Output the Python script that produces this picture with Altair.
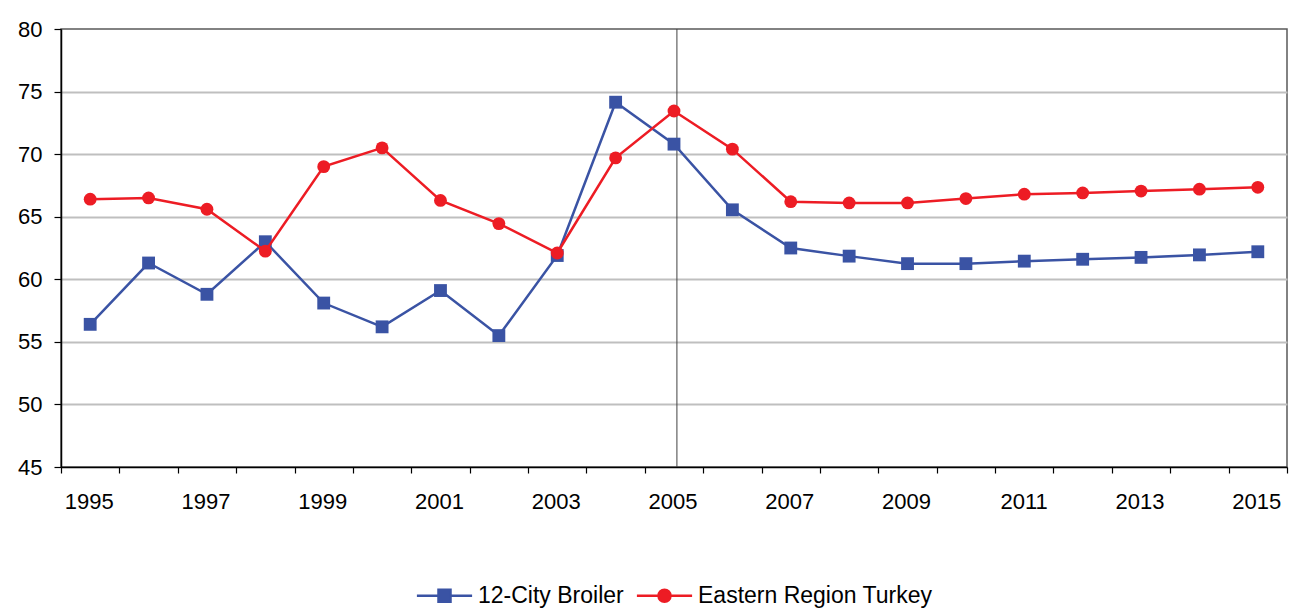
import altair as alt
import pandas as pd

years = list(range(1995, 2016))
broiler = [56.4, 61.3, 58.8, 63.0, 58.1, 56.2, 59.1, 55.5, 61.9, 74.15, 70.8,
           65.55, 62.5, 61.85, 61.25, 61.25, 61.45, 61.6, 61.75, 61.95, 62.2]
turkey = [66.4, 66.5, 65.6, 62.25, 69.0, 70.5, 66.3, 64.45, 62.1, 69.7, 73.45,
          70.4, 66.2, 66.1, 66.1, 66.45, 66.8, 66.9, 67.05, 67.2, 67.35]
series_names = ["12-City Broiler", "Eastern Region Turkey"]
series_colors = ["#3a53a4", "#ed1c24"]
marker_year = [2005]
y_ticks = [45, 50, 55, 60, 65, 70, 75, 80]

rows = []
for yr, b, t in zip(years, broiler, turkey):
    rows.append({"year": yr, "series": series_names[0], "value": b})
    rows.append({"year": yr, "series": series_names[1], "value": t})
df = pd.DataFrame(rows)
rule_df = pd.DataFrame({"year": marker_year})

FONT = "Liberation Sans"
xscale = alt.Scale(type="band", paddingInner=0, paddingOuter=0)
yscale = alt.Scale(domain=[45, 80], nice=False, zero=False)

x_axis = alt.Axis(
    title=None, tickBand="extent", labelOffset=23, labelAngle=0, labelOverlap=False,
    labelExpr="datum.value % 2 == 1 ? datum.label : ''",
    tickSize=6, tickColor="black", tickWidth=1.2,
    domainColor="black", domainWidth=1.5, grid=False,
    labelFont=FONT, labelFontSize=22, labelColor="black", labelPadding=28,
)
y_axis = alt.Axis(
    title=None, values=y_ticks, tickSize=7, tickColor="black", tickWidth=1.2,
    domainColor="black", domainWidth=1.5,
    grid=True, gridColor="#bfbfbf", gridWidth=2,
    gridOpacity={"condition": {"test": "datum.value === 80 || datum.value === 45", "value": 0}, "value": 1},
    labelFont=FONT, labelFontSize=22, labelColor="black", labelPadding=12,
)

X = alt.X("year:O", scale=xscale, bandPosition=0.5, axis=x_axis)
Y = alt.Y("value:Q", scale=yscale, axis=y_axis)
Xp = alt.X("year:O", bandPosition=0.5)
Yp = alt.Y("value:Q")

rule = alt.Chart(rule_df).mark_rule(color="#404040", strokeWidth=1).encode(
    x=alt.X("year:O", bandPosition=0.55)
)

blue_line = alt.Chart().transform_filter(
    alt.datum.series == series_names[0]
).mark_line(color=series_colors[0], strokeWidth=2.5).encode(x=X, y=Y)
blue_pts = alt.Chart().transform_filter(
    alt.datum.series == series_names[0]
).mark_square(color=series_colors[0], size=165, opacity=1).encode(x=Xp, y=Yp)
red_line = alt.Chart().transform_filter(
    alt.datum.series == series_names[1]
).mark_line(color=series_colors[1], strokeWidth=2.5).encode(x=Xp, y=Yp)
red_pts = alt.Chart().transform_filter(
    alt.datum.series == series_names[1]
).mark_circle(color=series_colors[1], size=165, opacity=1).encode(x=Xp, y=Yp)

legend_paths = [
    "M-4.6,0H-1M1,0H4.6M-1,-1H1V1H-1Z",
    "M-4.6,0H-1M1,0H4.6M-1,0A1,1,0,1,0,1,0A1,1,0,1,0,-1,0Z",
]
leg = alt.Legend(title=None)
legend_layer = alt.Chart().transform_filter("false").mark_point(
    filled=True, size=144, strokeWidth=2.5, opacity=1
).encode(
    x=Xp, y=Yp,
    color=alt.Color("series:N", scale=alt.Scale(domain=series_names, range=series_colors), legend=leg),
    stroke=alt.Stroke("series:N", scale=alt.Scale(domain=series_names, range=series_colors), legend=leg),
    shape=alt.Shape("series:N", scale=alt.Scale(domain=series_names, range=legend_paths), legend=leg),
)

chart = alt.layer(
    rule, blue_line, blue_pts, red_line, red_pts, legend_layer, data=df
).properties(
    width=1226, height=438,
    autosize=alt.AutoSizeParams(type="none"),
    padding={"left": 53, "top": 21, "right": 5, "bottom": 141},
).configure_view(
    stroke="#595959", strokeWidth=1.5
).configure_legend(
    orient="none", legendX=372, legendY=555, direction="horizontal",
    labelFont=FONT, labelFontSize=23, labelColor="black", labelLimit=0,
    symbolSize=144, symbolStrokeWidth=2.5, symbolOpacity=1,
    labelOffset=22, columnPadding=7,
)

chart.save("out.html", embed_options={"renderer": "svg", "actions": False})
